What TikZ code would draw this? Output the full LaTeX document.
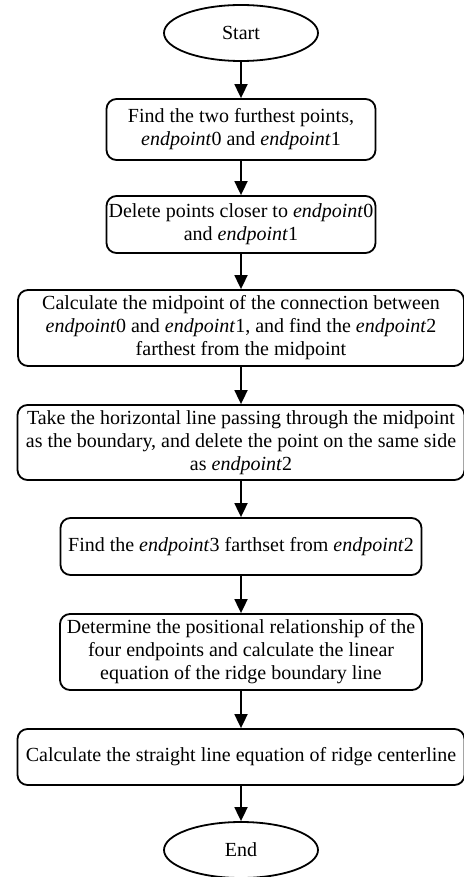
\documentclass[tikz,border=0pt]{standalone}
\usepackage{fontspec}
\setmainfont{Liberation Serif}
\usepackage{tikz}
\usetikzlibrary{positioning,shapes.geometric,arrows.meta}
\newcommand{\ept}[1]{\textit{endpoint}#1}

\begin{document}
\begin{tikzpicture}[x=0.5pt,y=-0.5pt,
	every node/.style={font=\fontsize{10}{11.5}\selectfont},
	proc/.style={draw,line width=0.9pt,rounded corners=5pt,align=center,inner xsep=0pt,inner ysep=1pt},
	term/.style={draw,line width=0.9pt,ellipse,inner sep=0pt,minimum width=77pt,minimum height=28pt},
	flow/.style={line width=0.9pt,-{Triangle[length=7pt,width=6.5pt]}}]
				\useasboundingbox (0,0) rectangle (464,877);
				% start and end
				\node[term] (start) at (241,33) {Start};
				\node[term] (stop) at (241,850) {End};
				% steps
				\node[proc,minimum width=134.5pt,minimum height=30.5pt] (far) at (241,129.5) {Find the two furthest points,\\ \ept{0} and \ept{1}};
				\node[proc,minimum width=134.5pt,minimum height=28.5pt] (del) at (241,224.5) {Delete points closer to \ept{0}\\ and \ept{1}};
				\node[proc,minimum width=223pt,minimum height=38pt] (mid) at (241,328) {Calculate the midpoint of the connection between\\ \ept{0} and \ept{1}, and find the \ept{2}\\ farthest from the midpoint};
				\node[proc,minimum width=223.5pt,minimum height=37.5pt] (side) at (241,442.5) {Take the horizontal line passing through the midpoint\\ as the boundary, and delete the point on the same side\\ as \ept{2}};
				\node[proc,minimum width=180.5pt,minimum height=28.5pt] (third) at (241,546.5) {Find the \ept{3} farthset from \ept{2}};
				\node[proc,minimum width=181pt,minimum height=38pt] (rel) at (241,652) {Determine the positional relationship of the\\ four endpoints and calculate the linear\\ equation of the ridge boundary line};
				\node[proc,minimum width=223.5pt,minimum height=28pt] (cen) at (241,757) {Calculate the straight line equation of ridge centerline};
				% arrows
				\draw[flow] (start) -- (far);
				\draw[flow] (far) -- (del);
				\draw[flow] (del) -- (mid);
				\draw[flow] (mid) -- (side);
				\draw[flow] (side) -- (third);
				\draw[flow] (third) -- (rel);
				\draw[flow] (rel) -- (cen);
				\draw[flow] (cen) -- (stop);
\end{tikzpicture}
\end{document}
